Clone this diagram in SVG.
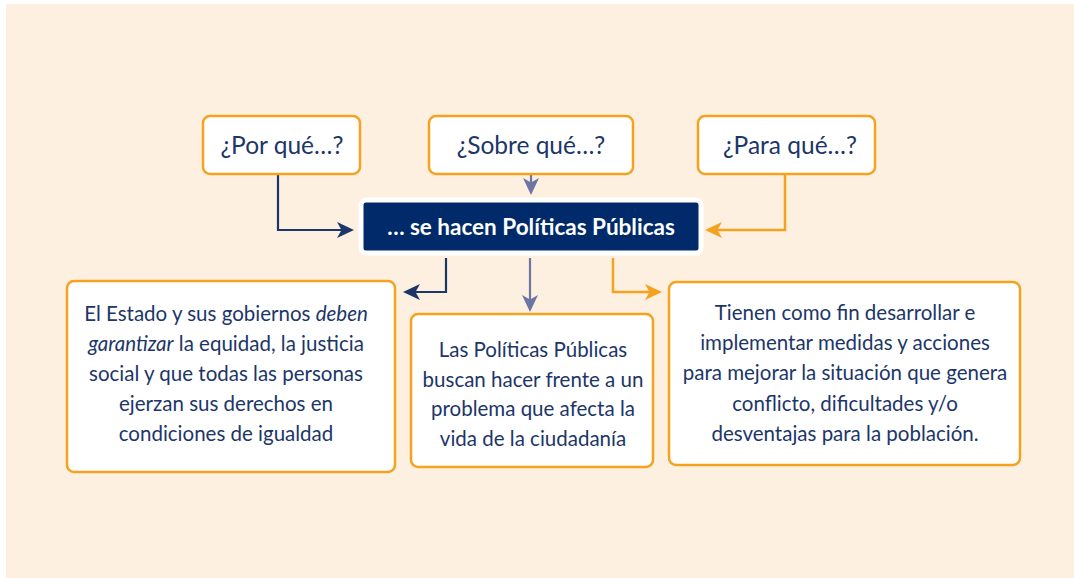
<svg xmlns="http://www.w3.org/2000/svg" width="1074" height="578" viewBox="0 0 1074 578">
<style>
.bg{fill:#FDF0E1}
.box{fill:#FFFFFF;stroke:#F5A21F;stroke-width:2.5}
.t{font-family:Lato,"Open Sans","Liberation Sans",sans-serif;fill:#1C3669;text-anchor:middle}
.q{font-size:24.5px}
.b{font-size:20.5px}
.main{font-family:Lato,"Open Sans","Liberation Sans",sans-serif;font-weight:bold;font-size:22.5px;fill:#FFFFFF;text-anchor:middle}
.cn{fill:none;stroke:#1C3669;stroke-width:2.2}
.cg{fill:none;stroke:#6B76A5;stroke-width:2.2}
.co{fill:none;stroke:#F5A21F;stroke-width:2.5}
</style>
<defs>
<marker id="an" markerUnits="userSpaceOnUse" markerWidth="18" markerHeight="17" refX="7" refY="8" orient="auto" viewBox="0 0 18 17"><path d="M0,0 L17,8 L0,16 L4.5,8z" fill="#1C3669"/></marker>
<marker id="ag" markerUnits="userSpaceOnUse" markerWidth="18" markerHeight="17" refX="7" refY="8" orient="auto" viewBox="0 0 18 17"><path d="M0,0 L17,8 L0,16 L4.5,8z" fill="#6B76A5"/></marker>
<marker id="ao" markerUnits="userSpaceOnUse" markerWidth="18" markerHeight="17" refX="7" refY="8" orient="auto" viewBox="0 0 18 17"><path d="M0,0 L17,8 L0,16 L4.5,8z" fill="#F5A21F"/></marker>
</defs>
<rect class="bg" x="6" y="4" width="1068" height="574"/>
<g id="connectors">
<path class="cn" d="M278,174 V230 H344" marker-end="url(#an)"/>
<path class="cg" d="M531,174 V185" marker-end="url(#ag)"/>
<path class="co" d="M785,174 V230 H715" marker-end="url(#ao)"/>
<path class="cn" d="M446,258 V292 H413" marker-end="url(#an)"/>
<path class="cg" d="M530,258 V302" marker-end="url(#ag)"/>
<path class="co" d="M613,258 V292 H652" marker-end="url(#ao)"/>
</g>
<g id="por">
<rect class="box" x="203" y="116" width="157" height="58" rx="7"/>
<text class="t q" x="282" y="154">¿Por qué…?</text>
</g>
<g id="sobre">
<rect class="box" x="429" y="116" width="204" height="58" rx="7"/>
<text class="t q" x="531" y="154">¿Sobre qué…?</text>
</g>
<g id="para">
<rect class="box" x="698" y="116" width="177" height="58" rx="7"/>
<text class="t q" x="790" y="154">¿Para qué…?</text>
</g>
<g id="main">
<rect x="361" y="200" width="340" height="53" rx="5" fill="#002A6A" stroke="#FFFFFF" stroke-width="5"/>
<text class="main" x="531" y="235">… se hacen Políticas Públicas</text>
</g>
<g id="left">
<rect class="box" x="67" y="281" width="328" height="191" rx="7"/>
<text class="t b" x="226" y="321">El Estado y sus gobiernos <tspan font-style="italic">deben</tspan></text>
<text class="t b" x="226" y="351"><tspan font-style="italic">garantizar</tspan> la equidad, la justicia</text>
<text class="t b" x="226" y="381">social y que todas las personas</text>
<text class="t b" x="226" y="411">ejerzan sus derechos en</text>
<text class="t b" x="226" y="441">condiciones de igualdad</text>
</g>
<g id="middle">
<rect class="box" x="411" y="314" width="242" height="153" rx="7"/>
<text class="t b" x="533" y="357">Las Políticas Públicas</text>
<text class="t b" x="533" y="387">buscan hacer frente a un</text>
<text class="t b" x="533" y="416">problema que afecta la</text>
<text class="t b" x="533" y="446">vida de la ciudadanía</text>
</g>
<g id="right">
<rect class="box" x="669" y="282" width="351" height="183" rx="7"/>
<text class="t b" x="845" y="320">Tienen como fin desarrollar e</text>
<text class="t b" x="845" y="350">implementar medidas y acciones</text>
<text class="t b" x="845" y="380">para mejorar la situación que genera</text>
<text class="t b" x="845" y="411">conflicto, dificultades y/o</text>
<text class="t b" x="845" y="441">desventajas para la población.</text>
</g>
</svg>
